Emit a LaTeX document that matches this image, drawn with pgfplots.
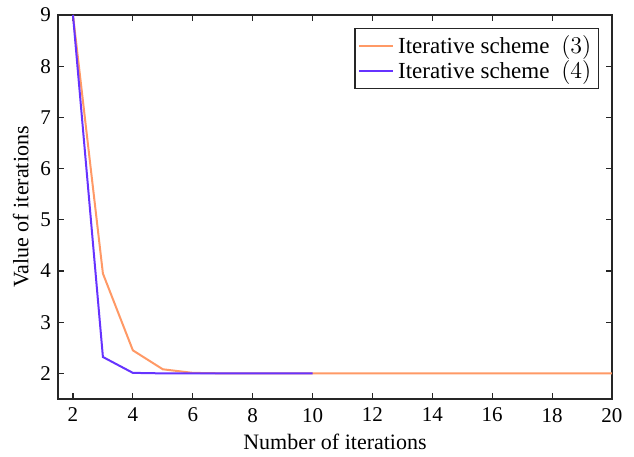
\documentclass[border=0pt]{standalone}
\usepackage{fontspec}
\setmainfont{Liberation Serif}
\usepackage{pgfplots}
\pgfplotsset{compat=1.18}
\definecolor{sch3}{HTML}{FF9966}
\definecolor{sch4}{HTML}{6633FF}
\definecolor{axisgray}{HTML}{262626}

\begin{document}
\begin{tikzpicture}
\begin{axis}[
  scale only axis,
  width=277pt, height=192pt,
  xmin=1.5, xmax=20, ymin=1.5, ymax=9,
  xtick={2,4,...,20}, ytick={2,3,...,9},
  tick align=inside,
  major tick length=3pt,
  axis line style={axisgray, line width=0.7pt},
  tick style={axisgray, line width=0.6pt},
  /pgf/number format/assume math mode=true,
  tick label style={font=\fontsize{10.5}{12}\selectfont},
  label style={font=\fontsize{11}{12}\selectfont},
  xticklabel style={yshift=-1pt},
  xlabel={Number of iterations},
  ylabel={Value of iterations},
  xlabel style={yshift=1pt},
  ylabel style={yshift=-1pt},
  legend style={at={(1,1)}, anchor=north east, xshift=-6.5pt, yshift=-6.5pt,
    draw=axisgray, line width=0.7pt, font=\fontsize{11.5}{13}\selectfont,
    inner sep=1.5pt, row sep=-2pt},
  legend cell align=left,
  legend image post style={line width=1pt},
]
\addplot[sch3, line width=1pt] coordinates {
 (2,9) (3,3.95) (4,2.45) (5,2.08) (6,2.01) (7,2.0) (8,2.0) (9,2.0) (10,2.0)
 (11,2.0) (12,2.0) (13,2.0) (14,2.0) (15,2.0) (16,2.0) (17,2.0) (18,2.0)
 (19,2.0) (20,2.0)
};
\addlegendentry{Iterative scheme\hspace{3pt} $(3)$}
\addplot[sch4, line width=1pt] coordinates {
 (2,9) (3,2.32) (4,2.01) (5,2.0) (6,2.0) (7,2.0) (8,2.0) (9,2.0) (10,2.0)
};
\addlegendentry{Iterative scheme\hspace{3pt} $(4)$}
\end{axis}
\path (current axis.south west) ++(-29pt,-27.5pt) coordinate (bbsw);
\path (current axis.north east) ++(11pt,7.5pt) coordinate (bbne);
\path (bbsw) rectangle (bbne);
\end{tikzpicture}
\end{document}
